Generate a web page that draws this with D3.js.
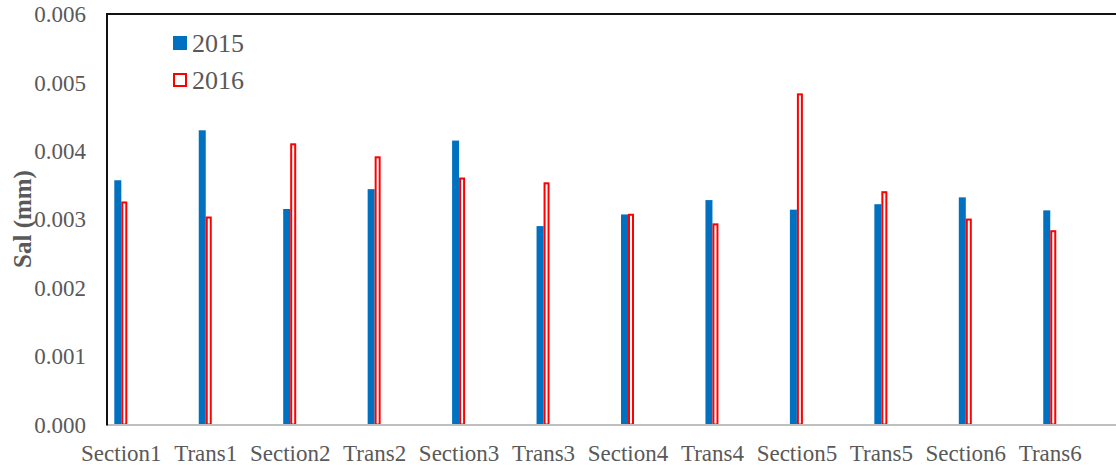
<!DOCTYPE html>
<html>
<head>
<meta charset="utf-8">
<script src="https://cdn.jsdelivr.net/npm/d3@7"></script>
<style>
  html, body { margin: 0; padding: 0; background: #fff; }
  svg { display: block; font-family: "Liberation Serif", "Times New Roman", serif; }
</style>
</head>
<body>
<svg id="chart" width="1116" height="467"></svg>
<script>
// Salinity by section / transect, two survey years
const categories = ["Section1", "Trans1", "Section2", "Trans2", "Section3", "Trans3",
                    "Section4", "Trans4", "Section5", "Trans5", "Section6", "Trans6"];
const values2015 = [0.00357, 0.00430, 0.00315, 0.00344, 0.00415, 0.00290,
                    0.00307, 0.00328, 0.00314, 0.00322, 0.00332, 0.00313];
const values2016 = [0.00326, 0.00304, 0.00411, 0.00392, 0.00361, 0.00354,
                    0.00308, 0.00294, 0.00484, 0.00341, 0.00301, 0.00284];
const yTicks = [0, 0.001, 0.002, 0.003, 0.004, 0.005, 0.006];
const seriesNames = ["2015", "2016"];

const svg = d3.select("#chart");
const plot = { left: 107, right: 1116, top: 14, bottom: 424.5 };

const y = d3.scaleLinear().domain([0, 0.006]).range([plot.bottom, plot.top]);
const step = 84.45;
const firstCenter = 121.3;
const x = d3.scaleBand()
  .domain(categories)
  .range([firstCenter - step / 2, firstCenter - step / 2 + step * categories.length])
  .padding(0);
const center = c => x(c) + x.bandwidth() / 2;

const blue = "#0070C0", red = "#FF0000", textGray = "#595959";
const barW = 7;

// Y tick labels (no tick marks)
const yAxis = d3.axisLeft(y).tickValues(yTicks).tickFormat(d3.format(".3f")).tickSize(0).tickPadding(0);
const gy = svg.append("g").attr("transform", `translate(${plot.left - 21},0)`).call(yAxis);
gy.select(".domain").remove();
gy.selectAll("text").attr("font-size", 23).attr("fill", textGray)
  .attr("font-family", "Liberation Serif").attr("dy", "0.33em");

// Bars: 2015 solid blue
svg.append("g").selectAll("rect").data(categories).join("rect")
  .attr("x", c => center(c) - barW)
  .attr("y", (c, i) => y(values2015[i]))
  .attr("width", barW)
  .attr("height", (c, i) => plot.bottom - y(values2015[i]))
  .attr("fill", blue);

// Bars: 2016 hollow red
svg.append("g").selectAll("rect").data(categories).join("rect")
  .attr("x", c => center(c) + 1)
  .attr("y", (c, i) => y(values2016[i]) + 1)
  .attr("width", barW - 3)
  .attr("height", (c, i) => plot.bottom - y(values2016[i]) - 1)
  .attr("fill", "#fff")
  .attr("stroke", red)
  .attr("stroke-width", 2);

// Frame: bottom axis (gray), left axis and top border (black)
svg.append("line").attr("x1", plot.left).attr("x2", plot.right)
  .attr("y1", plot.bottom + 0.5).attr("y2", plot.bottom + 0.5)
  .attr("stroke", "#bfbfbf").attr("stroke-width", 2);
svg.append("line").attr("x1", plot.left - 1).attr("x2", plot.right)
  .attr("y1", plot.top).attr("y2", plot.top)
  .attr("stroke", "#111").attr("stroke-width", 2);
svg.append("line").attr("x1", plot.left).attr("x2", plot.left)
  .attr("y1", plot.top).attr("y2", plot.bottom + 1)
  .attr("stroke", "#111").attr("stroke-width", 2);

// X category labels
const xAxis = d3.axisBottom(x).tickSize(0).tickPadding(0);
const gx = svg.append("g").attr("transform", `translate(0,${plot.bottom})`).call(xAxis);
gx.select(".domain").remove();
gx.selectAll("text").attr("font-size", 23).attr("fill", textGray)
  .attr("font-family", "Liberation Serif").attr("dy", null).attr("y", 36.5);

// Y axis title
svg.append("text")
  .attr("transform", "translate(31,219) rotate(-90)")
  .attr("text-anchor", "middle")
  .attr("font-size", 25).attr("font-weight", "bold").attr("fill", textGray)
  .text("Sal (mm)");

// Legend
const legend = svg.append("g");
seriesNames.forEach((name, i) => {
  const ly = 43 + i * 37;
  if (i === 0) {
    legend.append("rect").attr("x", 173).attr("y", ly - 7).attr("width", 14).attr("height", 14).attr("fill", blue);
  } else {
    legend.append("rect").attr("x", 174).attr("y", ly - 6).attr("width", 12).attr("height", 12)
      .attr("fill", "#fff").attr("stroke", red).attr("stroke-width", 2);
  }
  legend.append("text").attr("x", 192).attr("y", ly).attr("dy", "0.35em")
    .attr("font-size", 26).attr("fill", textGray).text(name);
});
</script>
</body>
</html>
